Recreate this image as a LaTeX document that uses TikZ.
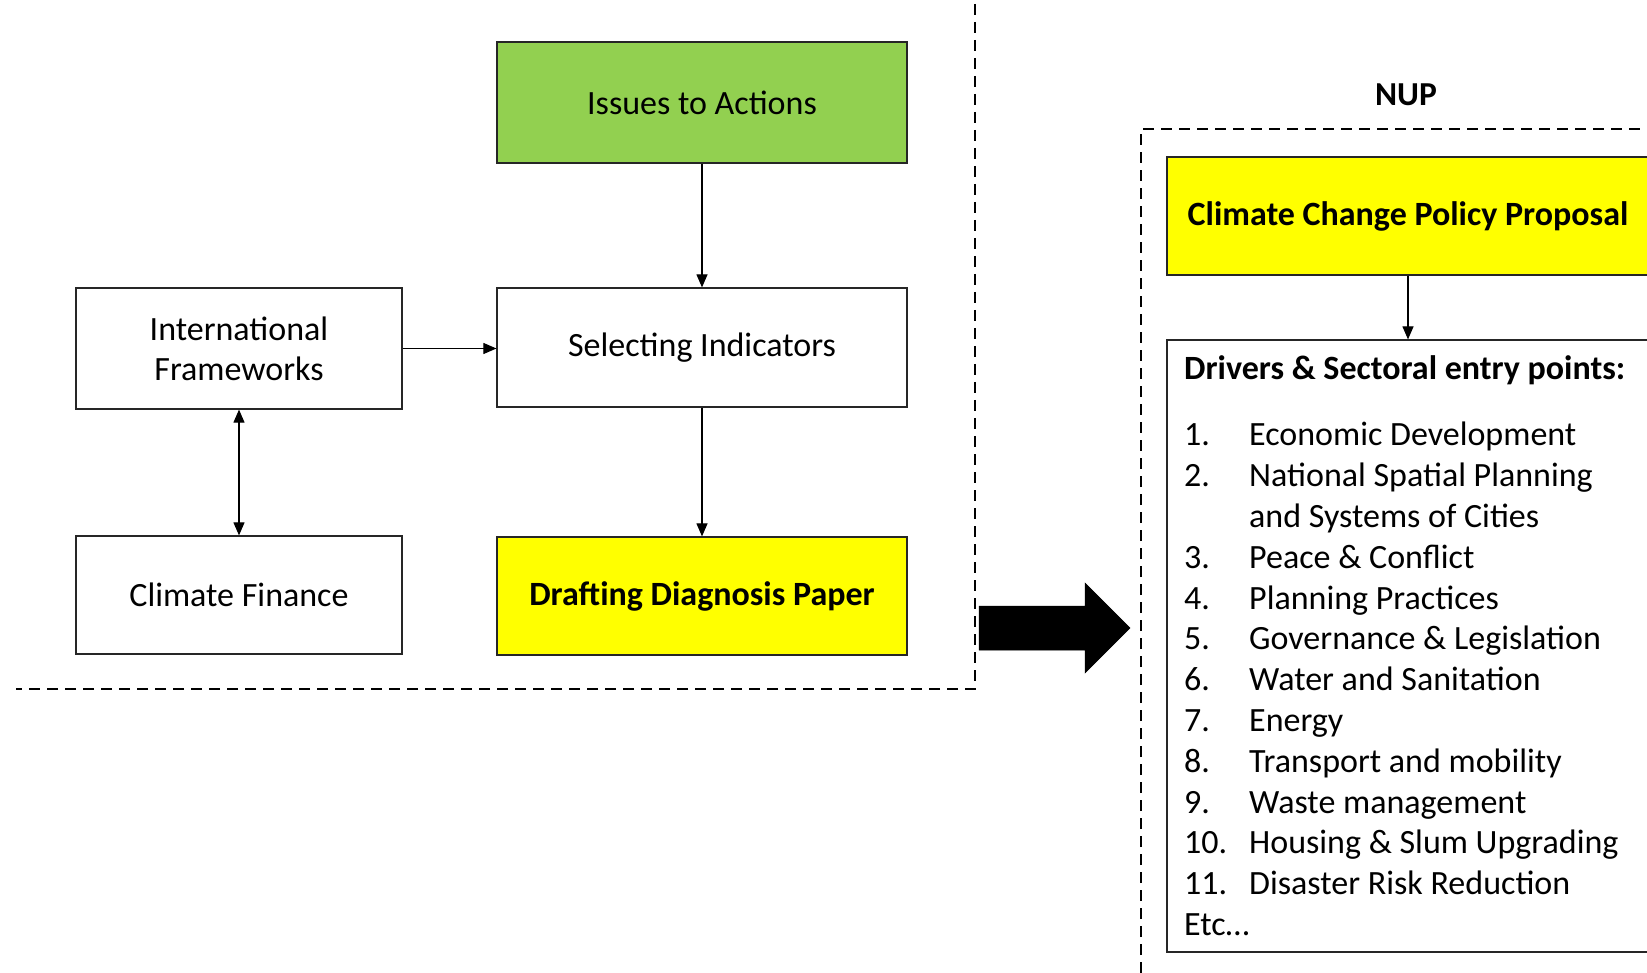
\documentclass[tikz,border=0pt]{standalone}
\usepackage{fontspec}
\setmainfont{Carlito}
\usetikzlibrary{arrows.meta,calc}
\definecolor{boxgreen}{HTML}{92D050}
\definecolor{boxyellow}{HTML}{FFFF00}
\begin{document}
\begin{tikzpicture}[x=1pt,y=-1pt,
  box/.style={draw=black!85, line width=1.2pt, rectangle, inner sep=0pt, align=center, font=\fontsize{34}{40}\selectfont},
  conn/.style={line width=1.1pt, -{Triangle[length=13pt,width=11pt]}},
  dconn/.style={line width=1.1pt, {Triangle[length=13pt,width=11pt]}-{Triangle[length=13pt,width=11pt]}},
  frame/.style={line width=2.3pt, dash pattern=on 11pt off 7pt},
  bigarrow/.style={fill=black, draw=black, line width=0.5pt}]
\useasboundingbox (0,0) rectangle (1647,973);
% left group
\node[box, fill=boxgreen, minimum width=410pt, minimum height=121pt] (issues) at (702,102.5) {Issues to Actions};
\node[box, minimum width=410pt, minimum height=119pt] (select) at (702,347.5) {Selecting Indicators};
\node[box, minimum width=326pt, minimum height=121pt] (intl) at (239,348.5) {International\\Frameworks};
\node[box, minimum width=326pt, minimum height=118pt] (finance) at (239,595) {Climate Finance};
\node[box, fill=boxyellow, minimum width=410pt, minimum height=118pt, font=\fontsize{34}{40}\selectfont\bfseries] (draft) at (702,596) {Drafting Diagnosis Paper};
\draw[conn] (issues.south) -- (select.north);
\draw[conn] (select.south) -- (draft.north);
\draw[conn] (intl.east) -- (select.west |- intl.east);
\draw[dconn] (intl.south) -- (finance.north);
% left dashed frame
\coordinate (lf1) at (975,4);
\coordinate (lf2) at (975,689);
\coordinate (lf3) at (16,689);
\draw[frame] (lf1) -- (lf2) -- (lf3);
% block arrow
\fill[bigarrow] (979,606) -- (1085,606) -- (1085,583) -- (1130,628) -- (1085,673) -- (1085,650) -- (979,650) -- cycle;
% right group
\node[font=\fontsize{33.5}{38}\selectfont\bfseries] (nup) at (1406,95) {NUP};
\coordinate (rf1) at (1141,973);
\coordinate (rf2) at (1141,129);
\coordinate (rf3) at (1650,129);
\draw[frame] (rf1) -- (rf2) -- (rf3);
\node[box, fill=boxyellow, minimum width=482pt, minimum height=118pt, font=\fontsize{34}{40}\selectfont\bfseries] (ccpp) at (1408,216) {Climate Change Policy Proposal};
\node[box, minimum width=482pt, minimum height=612pt] (drivers) at (1408,646) {};
\draw[conn] (ccpp.south) -- (drivers.north);
\node[anchor=north west, align=left, inner sep=0pt, font=\fontsize{34}{40.8}\selectfont] (list) at (1184,355)
{\textbf{Drivers \& Sectoral entry points:}\\[26pt]
\makebox[65pt][l]{1.}Economic Development\\
\makebox[65pt][l]{2.}National Spatial Planning\\
\makebox[65pt][l]{}and Systems of Cities\\
\makebox[65pt][l]{3.}Peace \& Conflict\\
\makebox[65pt][l]{4.}Planning Practices\\
\makebox[65pt][l]{5.}Governance \& Legislation\\
\makebox[65pt][l]{6.}Water and Sanitation\\
\makebox[65pt][l]{7.}Energy\\
\makebox[65pt][l]{8.}Transport and mobility\\
\makebox[65pt][l]{9.}Waste management\\
\makebox[65pt][l]{10.}Housing \& Slum Upgrading\\
\makebox[65pt][l]{11.}Disaster Risk Reduction\\
Etc\ldots};
\end{tikzpicture}
\end{document}
